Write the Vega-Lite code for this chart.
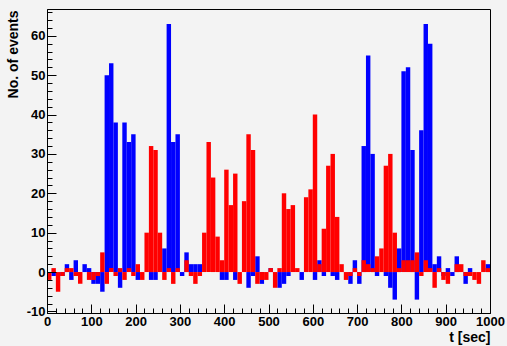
{
  "$schema": "https://vega.github.io/schema/vega-lite/v6.json",
  "width": 443,
  "height": 304,
  "autosize": {"type": "none"},
  "padding": {"left": 47, "top": 9, "right": 17, "bottom": 33},
  "background": "#f3f3f3",
  "config": {"view": {"stroke": "#000000", "strokeWidth": 1}, "font": "Liberation Sans"},
  "data": {"values": [
    {"t":0,"t2":10,"b":0,"r":-2},{"t":10,"t2":20,"b":-1,"r":1},{"t":20,"t2":30,"b":0,"r":-5},{"t":30,"t2":40,"b":-1,"r":-1},{"t":40,"t2":50,"b":2,"r":1},
    {"t":50,"t2":60,"b":-2,"r":1},{"t":60,"t2":70,"b":3,"r":-1},{"t":70,"t2":80,"b":0,"r":-3},{"t":80,"t2":90,"b":2,"r":0},{"t":90,"t2":100,"b":1,"r":-2},
    {"t":100,"t2":110,"b":-3,"r":-2},{"t":110,"t2":120,"b":-3,"r":-1},{"t":120,"t2":130,"b":-5,"r":5},{"t":130,"t2":140,"b":50,"r":-3},{"t":140,"t2":150,"b":53,"r":1},
    {"t":150,"t2":160,"b":38,"r":-1},{"t":160,"t2":170,"b":-4,"r":1},{"t":170,"t2":180,"b":38,"r":-2},{"t":180,"t2":190,"b":33,"r":1},{"t":190,"t2":200,"b":35,"r":-1},
    {"t":200,"t2":210,"b":-2,"r":2},{"t":210,"t2":220,"b":0,"r":-2},{"t":220,"t2":230,"b":0,"r":10},{"t":230,"t2":240,"b":-2,"r":32},{"t":240,"t2":250,"b":-2,"r":31},
    {"t":250,"t2":260,"b":0,"r":10},{"t":260,"t2":270,"b":6,"r":-2},{"t":270,"t2":280,"b":63,"r":1},{"t":280,"t2":290,"b":33,"r":-3},{"t":290,"t2":300,"b":35,"r":1},
    {"t":300,"t2":310,"b":-1,"r":0},{"t":310,"t2":320,"b":5,"r":3},{"t":320,"t2":330,"b":2,"r":-1},{"t":330,"t2":340,"b":2,"r":-3},{"t":340,"t2":350,"b":2,"r":-1},
    {"t":350,"t2":360,"b":0,"r":10},{"t":360,"t2":370,"b":0,"r":33},{"t":370,"t2":380,"b":0,"r":24},{"t":380,"t2":390,"b":0,"r":9},{"t":390,"t2":400,"b":-2,"r":3},
    {"t":400,"t2":410,"b":-2,"r":26},{"t":410,"t2":420,"b":0,"r":17},{"t":420,"t2":430,"b":-2,"r":25},{"t":430,"t2":440,"b":0,"r":-3},{"t":440,"t2":450,"b":0,"r":18},
    {"t":450,"t2":460,"b":-4,"r":35},{"t":460,"t2":470,"b":-1,"r":31},{"t":470,"t2":480,"b":4,"r":-3},{"t":480,"t2":490,"b":-3,"r":-2},{"t":490,"t2":500,"b":0,"r":-2},
    {"t":500,"t2":510,"b":1,"r":1},{"t":510,"t2":520,"b":0,"r":-4},{"t":520,"t2":530,"b":-4,"r":1},{"t":530,"t2":540,"b":-3,"r":20},{"t":540,"t2":550,"b":-1,"r":16},
    {"t":550,"t2":560,"b":0,"r":17},{"t":560,"t2":570,"b":0,"r":1},{"t":570,"t2":580,"b":-2,"r":0},{"t":580,"t2":590,"b":0,"r":19},{"t":590,"t2":600,"b":0,"r":21},
    {"t":600,"t2":610,"b":-2,"r":40},{"t":610,"t2":620,"b":3,"r":2},{"t":620,"t2":630,"b":-1,"r":11},{"t":630,"t2":640,"b":0,"r":27},{"t":640,"t2":650,"b":-1,"r":30},
    {"t":650,"t2":660,"b":-2,"r":14},{"t":660,"t2":670,"b":0,"r":2},{"t":670,"t2":680,"b":0,"r":-2},{"t":680,"t2":690,"b":-3,"r":-1},{"t":690,"t2":700,"b":3,"r":1},
    {"t":700,"t2":710,"b":-3,"r":-1},{"t":710,"t2":720,"b":32,"r":3},{"t":720,"t2":730,"b":55,"r":2},{"t":730,"t2":740,"b":30,"r":1},{"t":740,"t2":750,"b":-1,"r":4},
    {"t":750,"t2":760,"b":0,"r":6},{"t":760,"t2":770,"b":-1,"r":27},{"t":770,"t2":780,"b":-4,"r":30},{"t":780,"t2":790,"b":-7,"r":10},{"t":790,"t2":800,"b":6,"r":1},
    {"t":800,"t2":810,"b":51,"r":3},{"t":810,"t2":820,"b":52,"r":3},{"t":820,"t2":830,"b":31,"r":3},{"t":830,"t2":840,"b":-7,"r":5},{"t":840,"t2":850,"b":36,"r":-1},
    {"t":850,"t2":860,"b":63,"r":3},{"t":860,"t2":870,"b":58,"r":1},{"t":870,"t2":880,"b":2,"r":-4},{"t":880,"t2":890,"b":4,"r":1},{"t":890,"t2":900,"b":-1,"r":-2},
    {"t":900,"t2":910,"b":1,"r":-3},{"t":910,"t2":920,"b":-1,"r":0},{"t":920,"t2":930,"b":4,"r":2},{"t":930,"t2":940,"b":0,"r":2},{"t":940,"t2":950,"b":-3,"r":-1},
    {"t":950,"t2":960,"b":1,"r":-1},{"t":960,"t2":970,"b":0,"r":-2},{"t":970,"t2":980,"b":0,"r":-3},{"t":980,"t2":990,"b":0,"r":3},{"t":990,"t2":1000,"b":2,"r":1}
  ]},
  "encoding": {
    "x": {
      "field": "t", "type": "quantitative",
      "scale": {"domain": [0, 1000], "nice": false, "zero": false},
      "axis": {
        "values": [0,20,40,60,80,100,120,140,160,180,200,220,240,260,280,300,320,340,360,380,400,420,440,460,480,500,520,540,560,580,600,620,640,660,680,700,720,740,760,780,800,820,840,860,880,900,920,940,960,980,1000],
        "labelExpr": "datum.value % 100 === 0 ? '' + datum.value : ''",
        "zindex": 1, "domain": true, "domainColor": "#000000",
        "ticks": true, "tickColor": "#000000", "tickWidth": 1,
        "tickSize": {"condition": {"test": "datum.value % 100 === 0", "value": -9}, "value": -5},
        "grid": false,
        "labelFont": "Liberation Sans", "labelFontWeight": "bold", "labelFontSize": 13, "labelColor": "#000000",
        "labelPadding": 11, "labelOverlap": false, "labelFlush": false,
        "title": "t [sec]", "titleFont": "Liberation Sans", "titleFontWeight": "bold", "titleFontSize": 14, "titleColor": "#000000",
        "titleAnchor": "end", "titleAlign": "right", "titleBaseline": "alphabetic", "titleX": 443, "titleY": 28
      }
    },
    "x2": {"field": "t2"},
    "y2": {"datum": 0}
  },
  "layer": [
    {
      "mark": {"type": "bar", "color": "#0000ff"},
      "encoding": {
        "y": {
          "field": "b", "type": "quantitative",
          "scale": {"domain": [-10.4, 66.8], "nice": false, "zero": false},
          "axis": {
            "values": [-10,-8,-6,-4,-2,0,2,4,6,8,10,12,14,16,18,20,22,24,26,28,30,32,34,36,38,40,42,44,46,48,50,52,54,56,58,60,62,64,66],
            "labelExpr": "datum.value % 10 === 0 ? '' + datum.value : ''",
            "zindex": 1, "domain": true, "domainColor": "#000000",
            "ticks": true, "tickColor": "#000000", "tickWidth": 1,
            "tickSize": {"condition": {"test": "datum.value % 10 === 0", "value": -9}, "value": -5},
            "grid": false,
            "labelFont": "Liberation Sans", "labelFontWeight": "bold", "labelFontSize": 13, "labelColor": "#000000",
            "labelPadding": 11, "labelOverlap": false, "labelFlush": false,
            "title": "No. of events", "titleFont": "Liberation Sans", "titleFontWeight": "bold", "titleFontSize": 14, "titleColor": "#000000",
            "titleAnchor": "end", "titleAlign": "right", "titleBaseline": "alphabetic", "titleAngle": 270, "titleX": -30, "titleY": 1
          }
        }
      }
    },
    {
      "mark": {"type": "bar", "color": "#ff0000"},
      "encoding": {
        "y": {
          "field": "r", "type": "quantitative",
          "scale": {"domain": [-10.4, 66.8], "nice": false, "zero": false},
          "axis": {
            "values": [-10,-8,-6,-4,-2,0,2,4,6,8,10,12,14,16,18,20,22,24,26,28,30,32,34,36,38,40,42,44,46,48,50,52,54,56,58,60,62,64,66],
            "labelExpr": "datum.value % 10 === 0 ? '' + datum.value : ''",
            "zindex": 1, "domain": true, "domainColor": "#000000",
            "ticks": true, "tickColor": "#000000", "tickWidth": 1,
            "tickSize": {"condition": {"test": "datum.value % 10 === 0", "value": -9}, "value": -5},
            "grid": false,
            "labelFont": "Liberation Sans", "labelFontWeight": "bold", "labelFontSize": 13, "labelColor": "#000000",
            "labelPadding": 11, "labelOverlap": false, "labelFlush": false,
            "title": "No. of events", "titleFont": "Liberation Sans", "titleFontWeight": "bold", "titleFontSize": 14, "titleColor": "#000000",
            "titleAnchor": "end", "titleAlign": "right", "titleBaseline": "alphabetic", "titleAngle": 270, "titleX": -30, "titleY": 1
          }
        }
      }
    }
  ]
}
